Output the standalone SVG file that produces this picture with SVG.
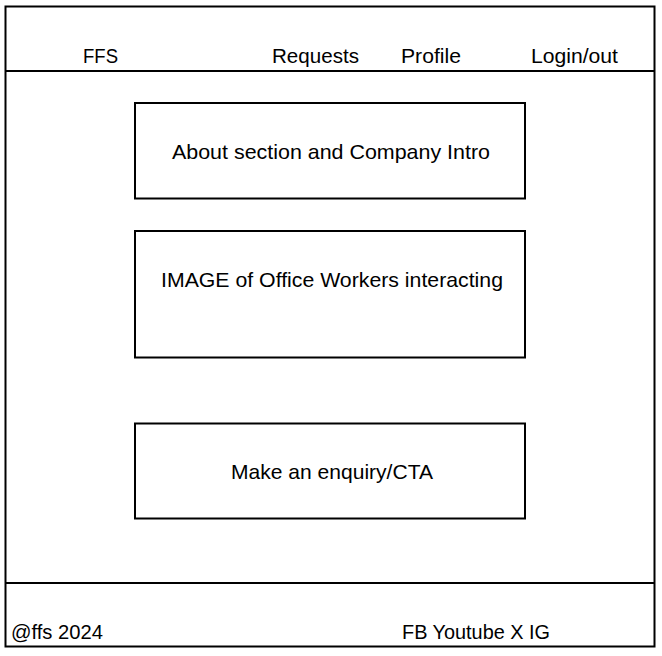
<svg xmlns="http://www.w3.org/2000/svg" width="662" height="656" viewBox="0 0 662 656">
<style>
.ln{fill:none;stroke:#000;stroke-width:2}
.t{font-family:"Liberation Sans",Arial,sans-serif;font-size:21px;fill:#000}
</style>
<rect width="662" height="656" fill="#fff"/>
<g id="frame">
<rect class="ln" x="5.5" y="6.5" width="649" height="640"/>
</g>
<g id="connectors">
<line class="ln" x1="5.5" y1="71" x2="654.5" y2="71"/>
<line class="ln" x1="5.5" y1="583" x2="654.5" y2="583"/>
</g>
<g id="nav">
<text class="t" x="83" y="63" textLength="35" lengthAdjust="spacingAndGlyphs">FFS</text>
<text class="t" x="272" y="63" textLength="87" lengthAdjust="spacingAndGlyphs">Requests</text>
<text class="t" x="401" y="63" textLength="60" lengthAdjust="spacingAndGlyphs">Profile</text>
<text class="t" x="531" y="63" textLength="87" lengthAdjust="spacingAndGlyphs">Login/out</text>
</g>
<g id="about">
<rect class="ln" x="135" y="103" width="390" height="95.5"/>
<text class="t" x="172" y="159" textLength="318" lengthAdjust="spacingAndGlyphs">About section and Company Intro</text>
</g>
<g id="image">
<rect class="ln" x="135" y="231" width="390" height="126.5"/>
<text class="t" x="161" y="287" textLength="342" lengthAdjust="spacingAndGlyphs">IMAGE of Office Workers interacting</text>
</g>
<g id="cta">
<rect class="ln" x="135" y="423.5" width="390" height="95"/>
<text class="t" x="231" y="479" textLength="202" lengthAdjust="spacingAndGlyphs">Make an enquiry/CTA</text>
</g>
<g id="footer">
<text class="t" x="11" y="639" textLength="92" lengthAdjust="spacingAndGlyphs">@ffs 2024</text>
<text class="t" x="402" y="639" textLength="148" lengthAdjust="spacingAndGlyphs">FB Youtube X IG</text>
</g>
</svg>
